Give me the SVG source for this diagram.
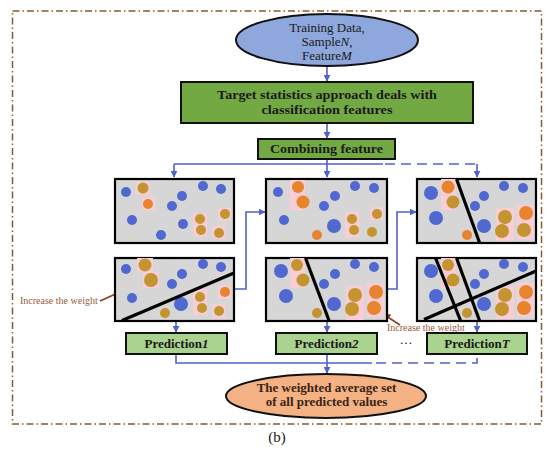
<svg xmlns="http://www.w3.org/2000/svg" width="550" height="454" viewBox="0 0 550 454">
<defs>
<marker id="ab" viewBox="0 0 10 10" refX="9" refY="5" markerWidth="7" markerHeight="7" markerUnits="userSpaceOnUse" orient="auto"><path d="M0,0 L10,5 L0,10 z" fill="#4f62c8"/></marker>
<marker id="ar" viewBox="0 0 10 10" refX="9" refY="5" markerWidth="8" markerHeight="8" markerUnits="userSpaceOnUse" orient="auto"><path d="M0,0 L10,5 L0,10 z" fill="#8b3a1a"/></marker>
</defs>
<style>
.t{font-family:"Liberation Serif","Times New Roman",serif;fill:#1a1a1a;text-anchor:middle}
.b{font-weight:bold}
.c{fill:none;stroke:#4f62c8;stroke-width:1.6}
.d{stroke-dasharray:10 6}
.panel{fill:#d6d6d6;stroke:#000;stroke-width:2.2}
.bl{fill:#5068d0}
.or{fill:#e8832e}
.go{fill:#c39430}
.h{fill:#f8cdd6}
.sep{stroke:#000;stroke-width:3.2}
.box1{fill:#73a943;stroke:#111;stroke-width:2}
.box2{fill:#a9d38e;stroke:#111;stroke-width:2}
.rt{font-family:"Liberation Serif","Times New Roman",serif;fill:#9a5a3a;font-size:10px}
</style>
<rect width="550" height="454" fill="#fff"/>
<rect x="12.5" y="11" width="529" height="413" fill="none" stroke="#8b5a2b" stroke-width="1.5" stroke-dasharray="7 3 1.5 3"/>

<g id="connectors">
<path class="c" d="M327,66 V81" marker-end="url(#ab)"/>
<path class="c" d="M327,123 V138" marker-end="url(#ab)"/>
<path class="c" d="M327,159 V164 M174,164 H383"/>
<path class="c d" d="M385,164 H477"/>
<path class="c" d="M174,164 V177" marker-end="url(#ab)"/>
<path class="c" d="M327,164 V177" marker-end="url(#ab)"/>
<path class="c" d="M477,164 V177" marker-end="url(#ab)"/>
<path class="c" d="M234,289 H246 V212 H265" marker-end="url(#ab)"/>
<path class="c" d="M387,289 H397 V212 H416" marker-end="url(#ab)"/>
<path class="c" d="M176,322 V332" marker-end="url(#ab)"/>
<path class="c" d="M327,322 V332" marker-end="url(#ab)"/>
<path class="c" d="M477,322 V332" marker-end="url(#ab)"/>
<path class="c" d="M176,354 V363 H372"/>
<path class="c d" d="M376,363 H477 V354"/>
<path class="c" d="M327,354 V373" marker-end="url(#ab)"/>
<path d="M100,301 L140,283" stroke="#8b3a1a" stroke-width="1.5" fill="none" marker-end="url(#ar)"/>
<path d="M400,325 L383,314" stroke="#8b3a1a" stroke-width="1.5" fill="none" marker-end="url(#ar)"/>
</g>

<g id="n_train">
<ellipse cx="327" cy="40" rx="91" ry="26" fill="#8ea7dc" stroke="#111" stroke-width="2"/>
<text class="t" x="327" y="32" font-size="13">Training Data,</text>
<text class="t" x="327" y="46" font-size="13">Sample<tspan font-style="italic">N</tspan>,</text>
<text class="t" x="327" y="60" font-size="13">Feature<tspan font-style="italic">M</tspan></text>
</g>

<g id="n_target">
<rect class="box1" x="181" y="82" width="292" height="41"/>
<text class="t b" x="327" y="99" font-size="12" textLength="220" lengthAdjust="spacingAndGlyphs">Target statistics approach deals with</text>
<text class="t b" x="327" y="114" font-size="12" textLength="131" lengthAdjust="spacingAndGlyphs">classification features</text>
</g>

<g id="n_combine">
<rect class="box1" x="258" y="139" width="137" height="20"/>
<text class="t b" x="326.5" y="153" font-size="13" textLength="113" lengthAdjust="spacingAndGlyphs">Combining feature</text>
</g>

<g id="n_p1a">
<rect class="panel" x="115" y="179" width="119" height="64"/>
<rect class="h" x="136" y="182" width="14" height="13"/><rect class="h" x="142" y="197" width="13" height="13"/>
<rect class="h" x="193" y="213" width="14" height="24"/><rect class="h" x="218" y="208" width="13" height="13"/><rect class="h" x="212" y="226" width="13" height="13"/>
<circle class="bl" cx="126" cy="192" r="5"/><circle class="go" cx="143" cy="188" r="5.5"/><circle class="or" cx="148" cy="204" r="5"/>
<circle class="bl" cx="182" cy="196" r="5"/><circle class="bl" cx="203" cy="186" r="5"/><circle class="bl" cx="221" cy="189" r="5"/>
<circle class="bl" cx="172" cy="206" r="5"/><circle class="bl" cx="132" cy="220" r="5"/><circle class="bl" cx="183" cy="224" r="5"/>
<circle class="go" cx="200" cy="219" r="5"/><circle class="go" cx="225" cy="214" r="5"/><circle class="go" cx="201" cy="230" r="5"/>
<circle class="go" cx="219" cy="233" r="5"/><circle class="bl" cx="161" cy="235" r="5"/>
</g>

<g id="n_p1b">
<rect class="panel" x="115" y="258" width="119" height="63"/>
<rect class="h" x="137" y="258" width="16" height="14"/><rect class="h" x="143" y="272" width="16" height="16"/>
<rect class="h" x="193" y="289" width="14" height="26"/><rect class="h" x="218" y="285" width="13" height="14"/><rect class="h" x="212" y="304" width="13" height="14"/>
<circle class="bl" cx="126" cy="269" r="5"/><circle class="go" cx="145" cy="265" r="6.5"/><circle class="go" cx="151" cy="280" r="7"/>
<circle class="bl" cx="182" cy="274" r="5"/><circle class="bl" cx="203" cy="264" r="5"/><circle class="bl" cx="221" cy="267" r="5"/>
<circle class="bl" cx="172" cy="284" r="5"/><circle class="bl" cx="132" cy="298" r="5"/><circle class="bl" cx="181" cy="304" r="7"/>
<circle class="go" cx="200" cy="297" r="5"/><circle class="or" cx="225" cy="292" r="5"/><circle class="go" cx="202" cy="308" r="5"/>
<circle class="go" cx="219" cy="311" r="5"/><circle class="go" cx="165" cy="313" r="5"/>
<line class="sep" x1="122" y1="320.5" x2="234" y2="273"/>
</g>

<g id="n_p2a">
<rect class="panel" x="266" y="179" width="121" height="64"/>
<rect class="h" x="290" y="180" width="15" height="30"/>
<rect class="h" x="345" y="212" width="14" height="26"/><rect class="h" x="370" y="207" width="13" height="13"/>
<circle class="bl" cx="278" cy="192" r="5"/><circle class="or" cx="298" cy="187" r="6"/><circle class="or" cx="303" cy="202" r="6.5"/>
<circle class="bl" cx="335" cy="196" r="5"/><circle class="bl" cx="355" cy="186" r="5"/><circle class="bl" cx="374" cy="188" r="5"/>
<circle class="bl" cx="324" cy="206" r="5"/><circle class="bl" cx="284" cy="220" r="5"/><circle class="bl" cx="334" cy="226" r="7"/>
<circle class="go" cx="352" cy="219" r="5"/><circle class="go" cx="377" cy="214" r="5"/><circle class="go" cx="354" cy="230" r="5"/>
<circle class="go" cx="372" cy="232" r="5"/><circle class="or" cx="317" cy="235" r="5"/>
</g>

<g id="n_p2b">
<rect class="panel" x="266" y="258" width="121" height="63"/>
<rect class="h" x="290" y="258" width="15" height="30"/>
<rect class="h" x="346" y="286" width="18" height="34"/><rect class="h" x="367" y="283" width="17" height="34"/>
<circle class="bl" cx="281" cy="271" r="7"/><circle class="go" cx="297" cy="265" r="6"/><circle class="go" cx="303" cy="280" r="6.5"/>
<circle class="bl" cx="335" cy="274" r="5"/><circle class="bl" cx="355" cy="264" r="5"/><circle class="bl" cx="374" cy="267" r="5"/>
<circle class="bl" cx="324" cy="284" r="5"/><circle class="bl" cx="286" cy="296" r="7"/><circle class="bl" cx="334" cy="304" r="7"/>
<circle class="go" cx="355" cy="295" r="7"/><circle class="or" cx="376" cy="292" r="7"/><circle class="go" cx="352" cy="309" r="7"/>
<circle class="or" cx="374" cy="308" r="7"/><circle class="go" cx="317" cy="313" r="5"/>
<line class="sep" x1="305.5" y1="258" x2="329" y2="320.5"/>
</g>

<g id="n_p3a">
<rect class="panel" x="417" y="179" width="119" height="64"/>
<rect class="h" x="441" y="179" width="15" height="31"/>
<rect class="h" x="496" y="208" width="18" height="33"/><rect class="h" x="517" y="205" width="17" height="34"/>
<circle class="bl" cx="431" cy="193" r="7"/><circle class="or" cx="448" cy="187" r="6.5"/><circle class="go" cx="453" cy="202" r="6.5"/>
<circle class="bl" cx="484" cy="196" r="5"/><circle class="bl" cx="504" cy="186" r="5"/><circle class="bl" cx="523" cy="188" r="5"/>
<circle class="bl" cx="475" cy="206" r="5"/><circle class="bl" cx="436" cy="218" r="7"/><circle class="bl" cx="484" cy="226" r="7"/>
<circle class="go" cx="505" cy="217" r="7"/><circle class="or" cx="526" cy="213" r="7"/><circle class="go" cx="502" cy="231" r="7"/>
<circle class="go" cx="524" cy="230" r="7"/><circle class="or" cx="467" cy="235" r="5"/>
<line class="sep" x1="456.5" y1="179" x2="479.5" y2="242.5"/>
</g>

<g id="n_p3b">
<rect class="panel" x="417" y="258" width="119" height="63"/>
<rect class="h" x="441" y="258" width="15" height="30"/>
<rect class="h" x="496" y="286" width="18" height="33"/><rect class="h" x="517" y="283" width="17" height="34"/>
<circle class="bl" cx="431" cy="271" r="7"/><circle class="go" cx="448" cy="265" r="6"/><circle class="go" cx="453" cy="280" r="6.5"/>
<circle class="bl" cx="484" cy="274" r="5"/><circle class="bl" cx="504" cy="264" r="5"/><circle class="bl" cx="523" cy="267" r="5"/>
<circle class="bl" cx="475" cy="284" r="5"/><circle class="bl" cx="436" cy="296" r="7"/><circle class="bl" cx="484" cy="304" r="7"/>
<circle class="go" cx="505" cy="295" r="7"/><circle class="or" cx="526" cy="292" r="7"/><circle class="go" cx="502" cy="309" r="7"/>
<circle class="or" cx="524" cy="308" r="7"/><circle class="go" cx="467" cy="313" r="5"/>
<line class="sep" x1="435.5" y1="258" x2="460.5" y2="320.5"/>
<line class="sep" x1="456.5" y1="258" x2="479.5" y2="320.5"/>
<line class="sep" x1="424" y1="319.5" x2="536" y2="271"/>
</g>

<g id="n_label1">
<text class="rt" x="20" y="304">Increase the weight</text>
</g>
<g id="n_label2">
<text class="rt" x="387" y="331">Increase the weight</text>
</g>

<g id="n_pred1">
<rect class="box2" x="126" y="333" width="101" height="21"/>
<text class="t b" x="176.5" y="348" font-size="13">Prediction<tspan font-style="italic">1</tspan></text>
</g>
<g id="n_pred2">
<rect class="box2" x="276" y="333" width="101" height="21"/>
<text class="t b" x="326.5" y="348" font-size="13">Prediction<tspan font-style="italic">2</tspan></text>
</g>
<text class="t" x="406" y="347" font-size="13">···</text>
<g id="n_predT">
<rect class="box2" x="427" y="333" width="100" height="21"/>
<text class="t b" x="477" y="348" font-size="13">Prediction<tspan font-style="italic">T</tspan></text>
</g>

<g id="n_result">
<ellipse cx="326" cy="396" rx="100" ry="22" fill="#f4b183" stroke="#111" stroke-width="2"/>
<text class="t b" x="326.5" y="392" font-size="13" style="fill:#3a2414">The weighted average set</text>
<text class="t b" x="326.5" y="406" font-size="13" style="fill:#3a2414">of all predicted values</text>
</g>

<text class="t" x="277" y="442" font-size="15">(b)</text>
</svg>
